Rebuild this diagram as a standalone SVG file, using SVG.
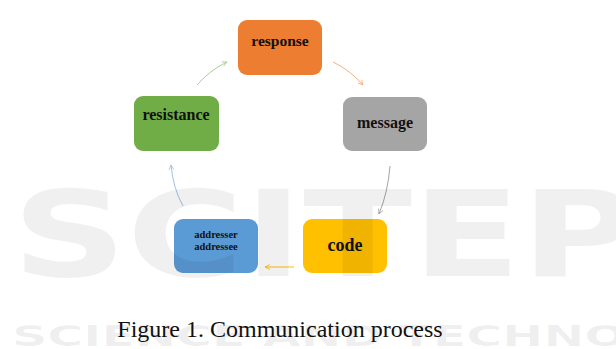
<svg xmlns="http://www.w3.org/2000/svg" width="616" height="349" viewBox="0 0 616 349">
  <defs>
    <style>
      .box { stroke: none; }
      .lbl { font-family: "Liberation Serif", "Times New Roman", serif; font-weight: bold; fill: #111; text-anchor: middle; }
      .link { fill: none; stroke-width: 1; }
      .cap { font-family: "Liberation Serif", "Times New Roman", serif; font-size: 24px; fill: #111; }
      .wm { font-family: "DejaVu Sans", sans-serif; font-weight: bold; fill: #000; fill-opacity: 0.06; }
    </style>
    <marker id="ah-green" viewBox="0 0 10 10" refX="9" refY="5" markerWidth="6" markerHeight="6" orient="auto"><path d="M1,1 L9,5 L1,9" fill="none" stroke="#A9D18E" stroke-width="1.4"/></marker>
    <marker id="ah-orange" viewBox="0 0 10 10" refX="9" refY="5" markerWidth="6" markerHeight="6" orient="auto"><path d="M1,1 L9,5 L1,9" fill="none" stroke="#F4B183" stroke-width="1.4"/></marker>
    <marker id="ah-gray" viewBox="0 0 10 10" refX="9" refY="5" markerWidth="6" markerHeight="6" orient="auto"><path d="M1,1 L9,5 L1,9" fill="none" stroke="#A5A5A5" stroke-width="1.4"/></marker>
    <marker id="ah-yellow" viewBox="0 0 10 10" refX="9" refY="5" markerWidth="6" markerHeight="6" orient="auto"><path d="M1,1 L9,5 L1,9" fill="none" stroke="#FFC000" stroke-width="1.4"/></marker>
    <marker id="ah-blue" viewBox="0 0 10 10" refX="9" refY="5" markerWidth="6" markerHeight="6" orient="auto"><path d="M1,1 L9,5 L1,9" fill="none" stroke="#9DC3E6" stroke-width="1.4"/></marker>
  </defs>

  <rect width="616" height="349" fill="#ffffff"/>

  <!-- cycle connectors -->
  <g id="connectors">
    <path class="link" stroke="#A9D18E" d="M197,85 Q210,70 227,62" marker-end="url(#ah-green)"/>
    <path class="link" stroke="#F4B183" d="M333,62 Q350,70 363,85" marker-end="url(#ah-orange)"/>
    <path class="link" stroke="#A5A5A5" d="M390,166 Q388,192 379,214" marker-end="url(#ah-gray)"/>
    <path class="link" stroke="#FFC000" d="M294,267 L265,267" marker-end="url(#ah-yellow)"/>
    <path class="link" stroke="#9DC3E6" d="M183,206 Q173,188 171,165" marker-end="url(#ah-blue)"/>
  </g>

  <g id="response">
    <rect class="box" x="238" y="20" width="84" height="55" rx="9" fill="#ED7D31"/>
    <text class="lbl" x="280" y="46" font-size="15.5">response</text>
  </g>

  <g id="message">
    <rect class="box" x="343" y="97" width="84" height="54" rx="9" fill="#A5A5A5"/>
    <text class="lbl" x="385" y="128" font-size="16">message</text>
  </g>

  <g id="code">
    <rect class="box" x="303" y="219" width="84" height="54" rx="9" fill="#FFC000"/>
    <text class="lbl" x="345" y="251" font-size="18">code</text>
  </g>

  <g id="addresser-addressee">
    <rect class="box" x="174" y="219" width="84" height="54" rx="9" fill="#5B9BD5"/>
    <text class="lbl" x="216" y="238" font-size="10.5">addresser</text>
    <text class="lbl" x="216" y="250" font-size="10.5">addressee</text>
  </g>

  <g id="resistance">
    <rect class="box" x="134" y="96" width="85" height="55" rx="9" fill="#70AD47"/>
    <text class="lbl" x="176" y="120" font-size="16">resistance</text>
  </g>

  <text class="cap" x="280" y="337" text-anchor="middle">Figure 1. Communication process</text>

  <!-- publisher watermark -->
  <g id="watermark">
    <text class="wm" x="12" y="276" font-size="120" textLength="1080" lengthAdjust="spacingAndGlyphs">SCITEPRESS</text>
    <text class="wm" x="12" y="346" font-size="28" textLength="760" lengthAdjust="spacingAndGlyphs">SCIENCE AND TECHNOLOGY</text>
  </g>
</svg>
